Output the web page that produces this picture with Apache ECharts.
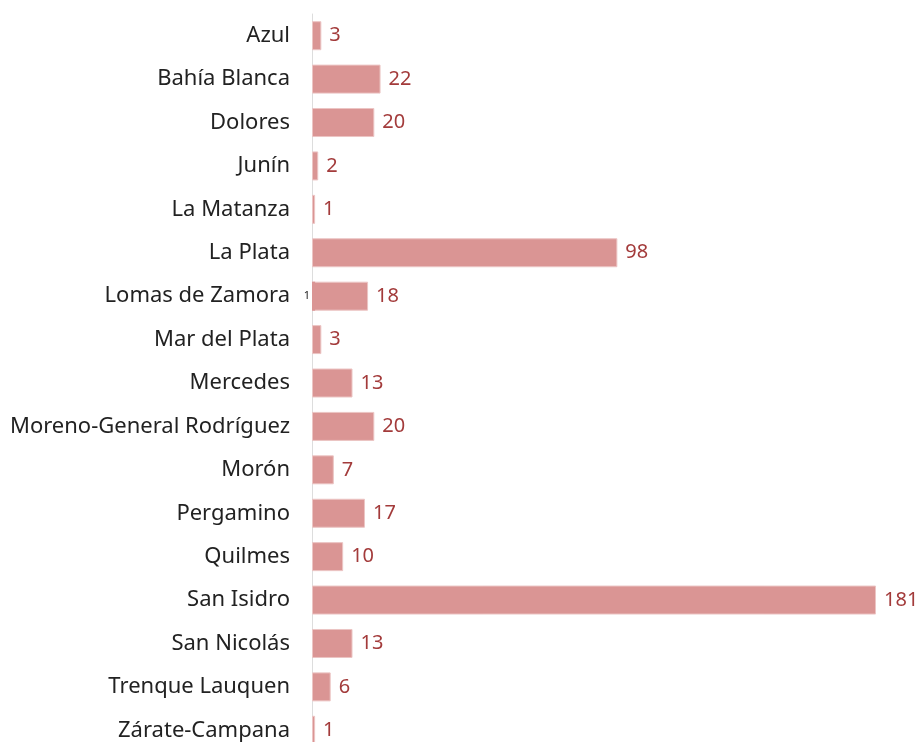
<!DOCTYPE html>
<html lang="es" style="height: 100%">
<head>
    <meta charset="UTF-8">
    <title>Causas por departamento</title>
    <script src="https://cdn.jsdelivr.net/npm/echarts@6/dist/echarts.min.js"></script>
</head>
<body style="height: 100%; margin: 0">
<div id="main" style="width: 919px; height: 742px"></div>
<script>
    var categorias = ['Azul', 'Bahía Blanca', 'Dolores', 'Junín', 'La Matanza', 'La Plata',
        'Lomas de Zamora', 'Mar del Plata', 'Mercedes', 'Moreno-General Rodríguez', 'Morón',
        'Pergamino', 'Quilmes', 'San Isidro', 'San Nicolás', 'Trenque Lauquen', 'Zárate-Campana'];
    var valores = [3, 22, 20, 2, 1, 98, 18, 3, 13, 20, 7, 17, 10, 181, 13, 6, 1];
    // pequeño valor extra que aparece junto a Lomas de Zamora
    var extra = [null, null, null, null, null, null, 1, null, null, null, null, null, null, null, null, null, null];

    var fuente = 'Noto Sans';
    var myChart = echarts.init(document.getElementById('main'));
    myChart.setOption({
        animation: false,
        grid: {left: 312, top: 14, width: 564, height: 738, outerBoundsMode: 'none'},
        xAxis: {
            type: 'value', min: 0, max: 181,
            show: false
        },
        yAxis: {
            type: 'category', inverse: true, data: categorias,
            axisLine: {show: true, lineStyle: {color: '#dddddd', width: 1}},
            axisTick: {show: false},
            axisLabel: {color: '#222222', fontSize: 22, fontFamily: fuente, margin: 22}
        },
        series: [
            {
                type: 'bar', data: valores, barWidth: 29,
                itemStyle: {color: '#da9594', borderColor: '#ecc5c4', borderWidth: 1},
                label: {
                    show: true, position: 'right', distance: 8,
                    color: '#a33b3b', fontSize: 20, fontFamily: fuente
                }
            },
            {
                type: 'bar', data: extra, barWidth: 29, barGap: '-100%',
                itemStyle: {color: '#da9594'},
                label: {
                    show: true, position: 'left', distance: 2,
                    color: '#222222', fontSize: 11, fontFamily: fuente
                }
            }
        ]
    });
</script>
</body>
</html>
